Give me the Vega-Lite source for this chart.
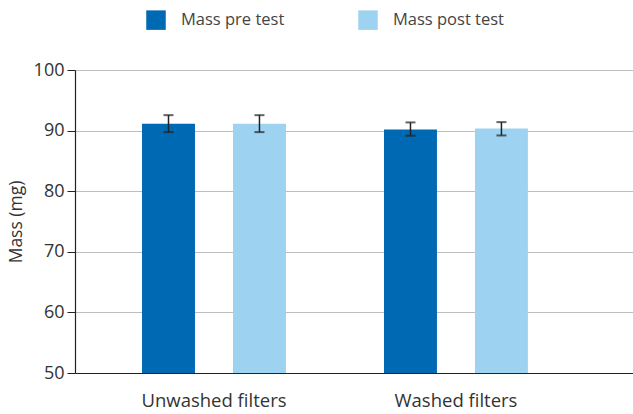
{
  "$schema": "https://vega.github.io/schema/vega-lite/v6.json",
  "width": 558,
  "height": 303,
  "autosize": {"type": "none"},
  "padding": {"left": 75, "top": 70, "right": 0, "bottom": 41},
  "config": {
    "font": "Open Sans",
    "view": {"stroke": null}
  },
  "data": {
    "values": [
      {"group": "Unwashed filters", "series": "Mass pre test", "mass": 91.15, "lo": 89.75, "hi": 92.55},
      {"group": "Unwashed filters", "series": "Mass post test", "mass": 91.15, "lo": 89.75, "hi": 92.55},
      {"group": "Washed filters", "series": "Mass pre test", "mass": 90.2, "lo": 89.15, "hi": 91.35},
      {"group": "Washed filters", "series": "Mass post test", "mass": 90.35, "lo": 89.2, "hi": 91.4}
    ]
  },
  "encoding": {
    "x": {
      "field": "group", "type": "nominal", "sort": ["Unwashed filters", "Washed filters"],
      "scale": {"paddingInner": 0, "paddingOuter": 0.153, "align": 0.243},
      "axis": {"title": null, "labelAngle": 0, "ticks": false, "labelPadding": 18, "labelFontSize": 18.5, "labelColor": "#333", "domainColor": "#222", "domainWidth": 1.2, "labelFont": "Open Sans"}
    },
    "xOffset": {
      "field": "series", "type": "nominal", "sort": ["Mass pre test", "Mass post test"],
      "scale": {"paddingInner": 0.418, "paddingOuter": 0.539}
    }
  },
  "layer": [
    {
      "mark": {"type": "bar"},
      "encoding": {
        "y": {
          "field": "mass", "type": "quantitative",
          "scale": {"domain": [50, 100], "nice": false, "zero": false},
          "axis": {"title": "Mass (mg)", "titleFontSize": 17.5, "titleFontWeight": "normal", "titleColor": "#333", "titlePadding": 8, "values": [50, 60, 70, 80, 90, 100], "labelFontSize": 18, "labelColor": "#333", "tickSize": 8, "tickColor": "#222", "domainColor": "#222", "domainWidth": 1.2, "gridColor": "#bdbdbd", "gridWidth": 1, "labelPadding": 3}
        },
        "y2": {"datum": 50},
        "color": {
          "field": "series", "type": "nominal", "sort": ["Mass pre test", "Mass post test"],
          "scale": {"range": ["#0069b4", "#9dd3f1"]},
          "legend": {"title": null, "orient": "none", "legendX": 71, "legendY": -60, "direction": "horizontal", "symbolType": "square", "symbolSize": 380, "symbolStrokeWidth": 0, "symbolOpacity": 1, "labelFontSize": 16.5, "labelColor": "#444", "labelOffset": 15, "columnPadding": 73}
        }
      }
    },
    {
      "mark": {"type": "rule", "color": "#222", "strokeWidth": 1.5},
      "encoding": {
        "y": {"field": "lo", "type": "quantitative"},
        "y2": {"field": "hi"}
      }
    },
    {
      "mark": {"type": "tick", "color": "#222", "thickness": 2, "size": 10},
      "encoding": {"y": {"field": "lo", "type": "quantitative"}}
    },
    {
      "mark": {"type": "tick", "color": "#222", "thickness": 2, "size": 10},
      "encoding": {"y": {"field": "hi", "type": "quantitative"}}
    }
  ]
}
